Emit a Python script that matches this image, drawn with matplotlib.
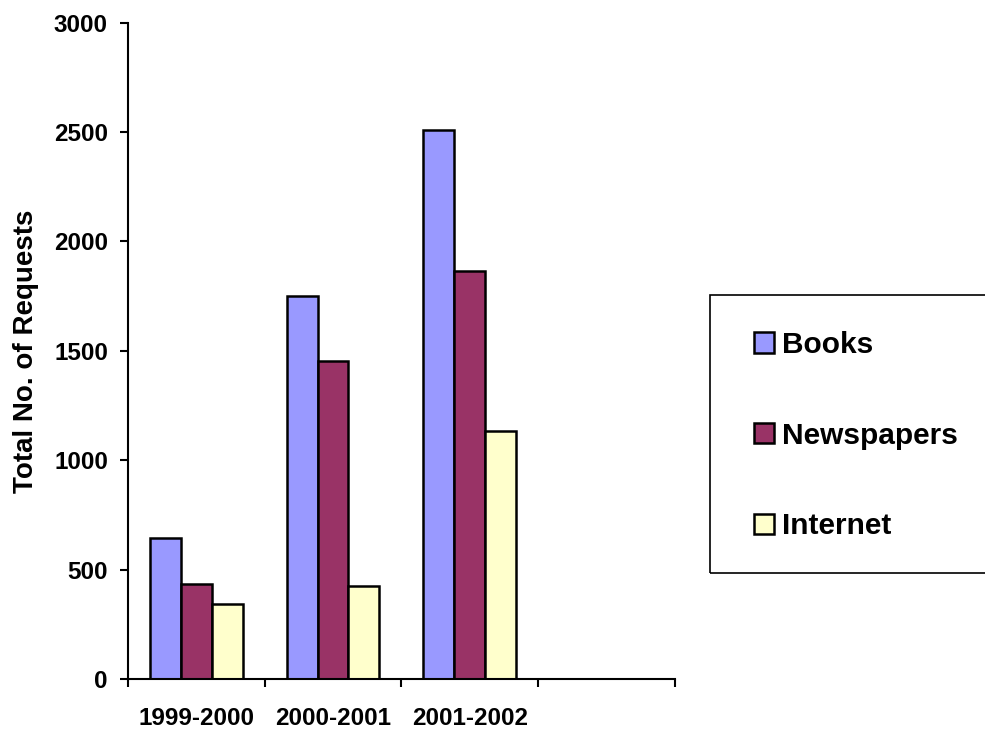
import numpy as np
import matplotlib.pyplot as plt
from matplotlib.patches import Rectangle

# Data
categories = ["1999-2000", "2000-2001", "2001-2002", ""]
series_names = ["Books", "Newspapers", "Internet"]
books = [645, 1752, 2510, 0]
newspapers = [434, 1453, 1866, 0]
internet = [344, 427, 1135, 0]
colors = ["#9999FF", "#993366", "#FFFFCC"]
yticks = [0, 500, 1000, 1500, 2000, 2500, 3000]

plt.rcParams["font.family"] = ["Liberation Sans", "DejaVu Sans"]
plt.rcParams["font.weight"] = "bold"

fig = plt.figure(figsize=(9.85, 7.29), dpi=100)
ax = fig.add_axes([0.13, 0.0686, 0.555, 0.9003])

x = np.arange(len(categories))
width = 0.226
values = [books, newspapers, internet]
for i in range(3):
    # last category is empty in the original chart
    ax.bar(x[:3] + (i - 1) * width, values[i][:3], width, color=colors[i],
           edgecolor="black", linewidth=1.8, label=series_names[i])

ax.set_xlim(-0.5, 3.5)
ax.set_ylim(0, 3000)
ax.set_yticks(yticks)
ax.set_yticklabels([str(v) for v in yticks], fontsize=17.5, fontweight="bold")

# group separators as major ticks, labels on minor ticks
ax.set_xticks(np.arange(-0.5, 4.0, 1.0))
ax.set_xticklabels([])
ax.set_xticks(x, minor=True)
ax.set_xticklabels(categories, minor=True, fontsize=17.5, fontweight="bold")
ax.tick_params(axis="x", which="minor", length=0, pad=20)
ax.tick_params(axis="both", which="major", direction="out", length=6, width=1.5)
ax.tick_params(axis="y", pad=8.5)

ax.set_ylabel("Total No. of Requests", fontsize=20, fontweight="bold", labelpad=11)

ax.spines["top"].set_visible(False)
ax.spines["right"].set_visible(False)
ax.spines["left"].set_linewidth(1.5)
ax.spines["bottom"].set_linewidth(1.5)

# legend box runs off the right edge of the figure
fig.patches.append(Rectangle((0.7208, 0.214), 0.3, 0.381, transform=fig.transFigure,
                             fill=False, edgecolor="black", linewidth=1.2))
leg = ax.legend(loc="upper left", bbox_to_anchor=(0.765, 0.546),
                bbox_transform=fig.transFigure,
                prop={"weight": "bold", "size": 21.5},
                frameon=False, borderpad=0,
                handlelength=0.67, handleheight=0.67, handletextpad=0.3,
                labelspacing=2.1, borderaxespad=0)

fig.savefig("out.png", dpi=100)
